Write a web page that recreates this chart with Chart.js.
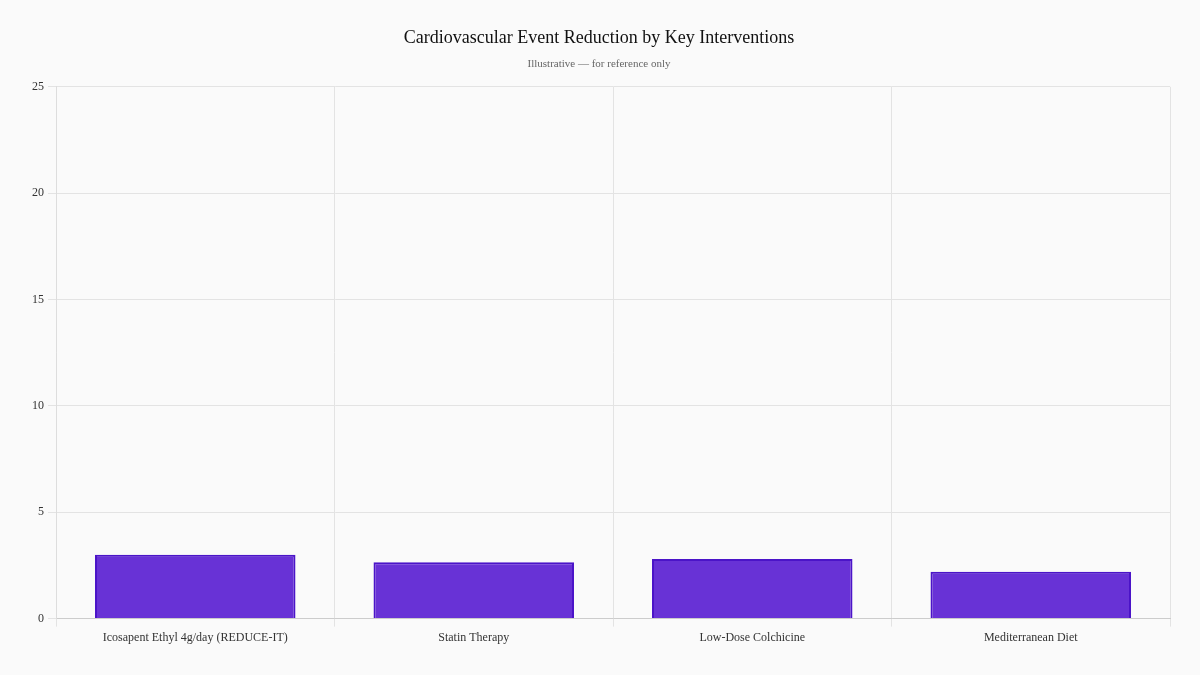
<!DOCTYPE html>
<html>
<head>
<meta charset="utf-8">
<script src="https://cdn.jsdelivr.net/npm/chart.js@4"></script>
<style>
html,body{margin:0;padding:0;background:#fafafa;}
#wrap{width:1200px;height:675px;position:relative;}
</style>
</head>
<body>
<div id="wrap"><canvas id="c" width="1200" height="675"></canvas></div>
<script>
const categories = ["Icosapent Ethyl 4g/day (REDUCE-IT)", "Statin Therapy", "Low-Dose Colchicine", "Mediterranean Diet"];
const values = [3.0, 2.65, 2.8, 2.2];
const yTicks = [0, 5, 10, 15, 20, 25];

Chart.defaults.font.family = "'Liberation Serif', 'Times New Roman', serif";
new Chart(document.getElementById('c'), {
  type: 'bar',
  data: {
    labels: categories,
    datasets: [{
      data: values,
      backgroundColor: '#6832d6',
      borderColor: '#4b14c8',
      borderWidth: 2,
      barPercentage: 0.9,
      categoryPercentage: 0.8
    }]
  },
  options: {
    responsive: false,
    animation: false,
    layout: { padding: { left: 28, right: 30, top: 19, bottom: 26 } },
    plugins: {
      legend: { display: false },
      tooltip: { enabled: false },
      title: {
        display: true,
        text: 'Cardiovascular Event Reduction by Key Interventions',
        color: '#111',
        font: { size: 18, weight: 'normal' },
        padding: { top: 8, bottom: 9 }
      },
      subtitle: {
        display: true,
        text: 'Illustrative \u2014 for reference only',
        color: '#666',
        font: { size: 11 },
        padding: { bottom: 16 }
      }
    },
    scales: {
      x: {
        grid: { color: '#e3e3e3', offset: true, tickLength: 8 },
        border: { color: '#cccccc' },
        ticks: { color: '#333', font: { size: 12 }, padding: 4 }
      },
      y: {
        min: 0, max: 25,
        afterBuildTicks: (s) => { s.ticks = yTicks.map(v => ({ value: v })); },
        grid: { color: '#e3e3e3', tickLength: 8 },
        border: { color: '#dddddd' },
        ticks: { color: '#333', font: { size: 12 }, padding: 4 }
      }
    }
  },
  plugins: [{
    id: 'bg',
    beforeDraw(chart) {
      const ctx = chart.ctx;
      ctx.save();
      ctx.fillStyle = '#fafafa';
      ctx.fillRect(0, 0, chart.width, chart.height);
      ctx.restore();
    }
  }]
});
</script>
</body>
</html>
